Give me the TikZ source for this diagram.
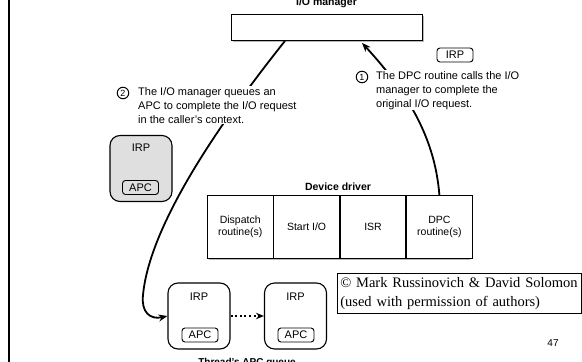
\documentclass[tikz,border=0pt]{standalone}
\usepackage{fontspec}
\setmainfont{Liberation Sans}
\newfontfamily\serifcr{Liberation Serif}
\usetikzlibrary{arrows.meta,calc}

\begin{document}
\begin{tikzpicture}[x=1pt,y=-1pt,
  box/.style={draw, line width=0.9pt, inner sep=0pt},
  rbox/.style={box, line width=1.1pt, rounded corners=10pt, minimum width=62pt, minimum height=66pt},
  tag/.style={draw, line width=0.9pt, rounded corners=3pt, inner sep=0pt,
    minimum width=36pt, minimum height=14pt, font=\fontsize{11}{12}\selectfont},
  lbl/.style={inner sep=0pt, font=\fontsize{11}{12}\selectfont},
  note/.style={fill=white, align=left, inner sep=1pt, font=\fontsize{11}{14}\selectfont},
  num/.style={circle, draw, line width=1pt, inner sep=0pt, minimum size=11.5pt,
    font=\fontsize{9}{9}\selectfont},
  flow/.style={line width=1.8pt, -{Stealth[length=9pt,width=7pt]}},
  cell/.style={draw, fill=white, line width=0.9pt, minimum width=65.5pt, minimum height=63pt,
    align=center, inner sep=0pt, font=\fontsize{10.5}{12.5}\selectfont},
  heading/.style={inner sep=0pt, font=\bfseries\fontsize{10.5}{12}\selectfont},
]
\useasboundingbox (0,0) rectangle (582,362);

% slide margin rule
\draw[line width=2.4pt] (9,0) -- (9,362);

% I/O manager
\fill[gray!55] (232.5,15.5) rectangle (423.5,41.5);
\node[box, fill=white, minimum width=191pt, minimum height=26pt, anchor=north west] (iom) at (231,14) {};
\node[heading, anchor=base] (iomlbl) at (326.5,5.5) {I/O manager};

% device driver table
\fill[gray!55] (208.5,196.5) rectangle (469.5,259.5);
\node[cell, anchor=north west] (disp) at (207,195) {Dispatch\\routine(s)};
\node[cell, anchor=west] (start) at (disp.east) {Start I/O};
\node[cell, anchor=west] (isr) at (start.east) {ISR};
\node[cell, anchor=west] (dpc) at (isr.east) {DPC\\routine(s)};
\node[heading] (ddlbl) at (338,187) {Device driver};

% IRP travelling back to the I/O manager
\node[tag] (irp0) at (455,55) {IRP};

% IRP with its APC, waiting to be queued
\node[rbox, fill=gray!25] (irpg) at (141,168.5) {};
\node[lbl] (irpgt) at (141,148) {IRP};
\node[tag] (apcg) at (140.5,187.5) {APC};

% thread's APC queue
\node[rbox] (q1) at (199,316) {};
\node[lbl] (q1t) at (199,297) {IRP};
\node[tag] (q1a) at (200,335) {APC};
\node[rbox] (q2) at (295.5,316) {};
\node[lbl] (q2t) at (295.5,297) {IRP};
\node[tag] (q2a) at (296,335) {APC};
\node[heading, font=\bfseries\fontsize{10}{12}\selectfont, anchor=base] (qlbl) at (247,365) {Thread’s APC queue};

% connectors
\coordinate (tip1) at ($(iom.south west)+(131,2)$);
\coordinate (src2) at ($(iom.south west)+(54,0)$);
\draw[flow] (dpc.north) .. controls (435,140) and (410,95) .. (tip1);
\draw[flow] (src2) .. controls (230,110) and (150,220) .. (143,295)
  .. controls (141,312) and (150,320) .. (q1.west);
\draw[line width=1.8pt, dash pattern=on 2pt off 2.6pt, -{Stealth[length=8pt,width=6.5pt]}]
  (q1.east) -- (q2.west);

% step notes
\node[note, anchor=north west] (n1) at (375,70) {The DPC routine calls the I/O\\manager to complete the\\original I/O request.};
\node[num] (c1) at (362,77) {1};
\node[note, anchor=north west] (n2) at (137,86) {The I/O manager queues an\\APC to complete the I/O request\\in the caller’s context.};
\node[num] (c2) at (123,93) {2};

% credit and page number
\node[draw, line width=0.6pt, anchor=north west, minimum width=244pt, minimum height=40pt,
  text width=238pt, align=left, inner sep=3pt, font=\serifcr\fontsize{14.5}{18.5}\selectfont]
  (credit) at (337,273) {© Mark Russinovich \& David Solomon\\(used with permission of authors)};
\node[font=\fontsize{10}{12}\selectfont] (pg) at (553,343) {47};
\end{tikzpicture}
\end{document}
